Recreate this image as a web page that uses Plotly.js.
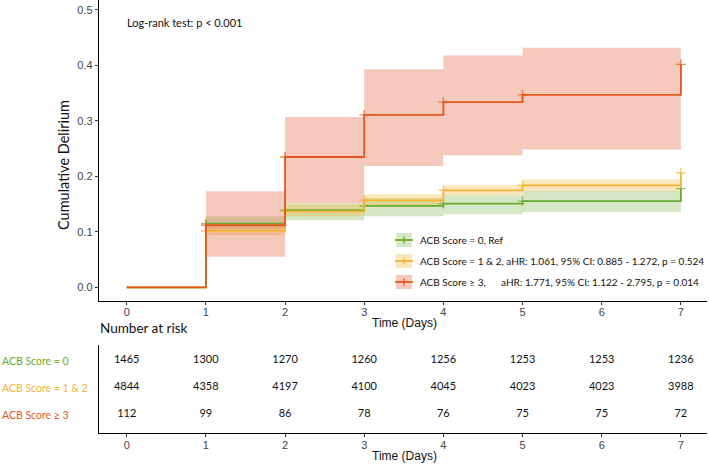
<!DOCTYPE html>
<html>
<head>
<meta charset="utf-8">
<script src="https://cdn.plot.ly/plotly-3.0.1.min.js"></script>
<style>html,body{margin:0;padding:0;background:#fff;}#chart{width:709px;height:464px;}</style>
</head>
<body>
<div id="chart"></div>
<script>
// ---- data ----
const days = [0, 1, 2, 3, 4, 5, 6, 7];
const stepTimes = [0, 1, 2, 3, 4, 5, 7];
const est0  = [0, 0.115, 0.139, 0.147, 0.151, 0.1555, 0.178];
const est12 = [0, 0.102, 0.137, 0.157, 0.175, 0.184, 0.2065];
const est3  = [0, 0.112, 0.235, 0.311, 0.334, 0.347, 0.402];
const ciTimes = [1, 2, 3, 4, 5, 7];
const lo0  = [0.105, 0.121, 0.128, 0.132, 0.136];
const hi0  = [0.128, 0.152, 0.161, 0.166, 0.174];
const lo12 = [0.094, 0.128, 0.148, 0.166, 0.1735];
const hi12 = [0.112, 0.150, 0.168, 0.184, 0.1946];
const lo3  = [0.055, 0.152, 0.2186, 0.238, 0.2486];
const hi3  = [0.1735, 0.307, 0.393, 0.418, 0.432];
const risk0  = [1465, 1300, 1270, 1260, 1256, 1253, 1253, 1236];
const risk12 = [4844, 4358, 4197, 4100, 4045, 4023, 4023, 3988];
const risk3  = [112, 99, 86, 78, 76, 75, 75, 72];
const groupNames = ["ACB Score = 0", "ACB Score = 1 & 2", "ACB Score \u2265 3"];
const legendNames = [
  "ACB Score = 0, Ref",
  "ACB Score = 1 & 2, aHR: 1.061, 95% CI: 0.885 - 1.272, p = 0.524",
  "ACB Score \u2265 3,\u00A0\u00A0\u00A0\u00A0\u00A0 aHR: 1.771, 95% CI: 1.122 - 2.795, p = 0.014"
];
const rowPos = [3, 2, 1];

// ---- styles ----
const colors = ["#6BAA2F", "#F2B53A", "#E2581E"];
const bands = ["rgba(107,170,47,0.28)", "rgba(245,178,45,0.32)", "rgba(228,100,65,0.35)"];
const FONT = "Lato, 'Open Sans', sans-serif";
const TICKFONT = "'Liberation Sans', Arial, sans-serif";

const ests = [est0, est12, est3];
const los = [lo0, lo12, lo3];
const his = [hi0, hi12, hi3];
const risks = [risk0, risk12, risk3];

const withLast = a => a.concat([a[a.length - 1]]);
const traces = [];
// CI bands
for (let g = 0; g < 3; g++) {
  traces.push({x: ciTimes, y: withLast(los[g]), mode: "lines", line: {shape: "hv", width: 0}, hoverinfo: "skip", showlegend: false, xaxis: "x", yaxis: "y"});
  traces.push({x: ciTimes, y: withLast(his[g]), mode: "lines", line: {shape: "hv", width: 0}, fill: "tonexty", fillcolor: bands[g], hoverinfo: "skip", showlegend: false, xaxis: "x", yaxis: "y"});
}
// estimate lines (green, yellow, then red on top)
for (let g = 0; g < 3; g++) {
  traces.push({
    x: stepTimes, y: ests[g], mode: "lines+markers", name: legendNames[g], showlegend: false,
    line: {shape: "hv", width: 1.8, color: colors[g]},
    marker: {symbol: "cross-thin", size: stepTimes.map((t, i) => i === 0 ? 0 : 7), color: colors[g], line: {color: colors[g], width: 1.4}},
    xaxis: "x", yaxis: "y"
  });
}
// risk table
for (let g = 0; g < 3; g++) {
  traces.push({
    x: days, y: days.map(() => rowPos[g]), mode: "text", text: risks[g].map(String),
    textfont: {family: FONT, size: 11, color: "#111"}, textposition: "middle center",
    showlegend: false, hoverinfo: "skip", xaxis: "x2", yaxis: "y2"
  });
}

const H = 464, W = 709;
const px = v => v / W, py = v => 1 - v / H;
const xDom = [px(99), px(707)];
const xRange = [-0.35, 7.33];

const annotations = [
  {text: "Log-rank test: p < 0.001", xref: "paper", yref: "paper", x: px(125), y: py(22), xanchor: "left", yanchor: "middle", showarrow: false, font: {family: FONT, size: 11, color: "#111"}},
  {text: "Cumulative Delirium", xref: "paper", yref: "paper", x: px(63), y: py(165), textangle: -90, xanchor: "center", yanchor: "middle", showarrow: false, font: {family: FONT, size: 14.5, color: "#111"}},
  {text: "Time (Days)", xref: "paper", yref: "paper", x: px(404), y: py(323), xanchor: "center", yanchor: "middle", showarrow: false, font: {family: TICKFONT, size: 12, color: "#111"}},
  {text: "Number at risk", xref: "paper", yref: "paper", x: px(98), y: py(328), xanchor: "left", yanchor: "middle", showarrow: false, font: {family: FONT, size: 13.5, color: "#111"}},
  {text: "Time (Days)", xref: "paper", yref: "paper", x: px(404), y: py(456), xanchor: "center", yanchor: "middle", showarrow: false, font: {family: TICKFONT, size: 12, color: "#111"}}
];
for (let g = 0; g < 3; g++) {
  annotations.push({text: groupNames[g], xref: "paper", yref: "y2", x: 0, y: rowPos[g], xanchor: "left", yanchor: "middle", showarrow: false, font: {family: FONT, size: 10.5, color: colors[g]}});
}

// legend (boxes, key lines, plus signs, labels)
const shapes = [];
const legRows = [240, 261, 282];
for (let g = 0; g < 3; g++) {
  const yc = legRows[g];
  shapes.push({type: "rect", xref: "paper", yref: "paper", x0: px(396), x1: px(412), y0: py(yc - 7), y1: py(yc + 7), fillcolor: bands[g], line: {width: 0}, layer: "above"});
  shapes.push({type: "line", xref: "paper", yref: "paper", x0: px(395), x1: px(413), y0: py(yc), y1: py(yc), line: {color: colors[g], width: 1.8}, layer: "above"});
  shapes.push({type: "line", xref: "paper", yref: "paper", x0: px(404), x1: px(404), y0: py(yc - 3.5), y1: py(yc + 3.5), line: {color: colors[g], width: 1.4}, layer: "above"});
  annotations.push({text: legendNames[g], xref: "paper", yref: "paper", x: px(418), y: py(yc), xanchor: "left", yanchor: "middle", showarrow: false, font: {family: FONT, size: 10, color: "#111"}});
}

const axCommon = {showline: true, linecolor: "#000", linewidth: 1.3, showgrid: false, zeroline: false, fixedrange: true};
const tickCommon = {ticks: "outside", ticklen: 3, tickcolor: "#333", ticklabelstandoff: -2, tickfont: {family: TICKFONT, size: 11, color: "#444"}};

const layout = {
  width: W, height: H, margin: {l: 0, r: 0, t: 0, b: 0},
  paper_bgcolor: "#fff", plot_bgcolor: "rgba(0,0,0,0)",
  showlegend: false,
  xaxis: Object.assign({domain: xDom, range: xRange, anchor: "y", tickvals: days}, axCommon, tickCommon),
  yaxis: Object.assign({domain: [py(300.7), 1], range: [-0.024, 0.518], anchor: "x", tickvals: [0, 0.1, 0.2, 0.3, 0.4, 0.5], tickformat: ".1f"}, axCommon, tickCommon, {ticklabelstandoff: 0}),
  xaxis2: Object.assign({domain: xDom, range: xRange, anchor: "y2", tickvals: days}, axCommon, tickCommon),
  yaxis2: Object.assign({domain: [py(433), py(345)], range: [0.32, 3.58], anchor: "x2", showticklabels: false, ticks: ""}, axCommon),
  annotations: annotations,
  shapes: shapes
};

Plotly.newPlot("chart", traces, layout, {displayModeBar: false, staticPlot: true});
</script>
</body>
</html>
